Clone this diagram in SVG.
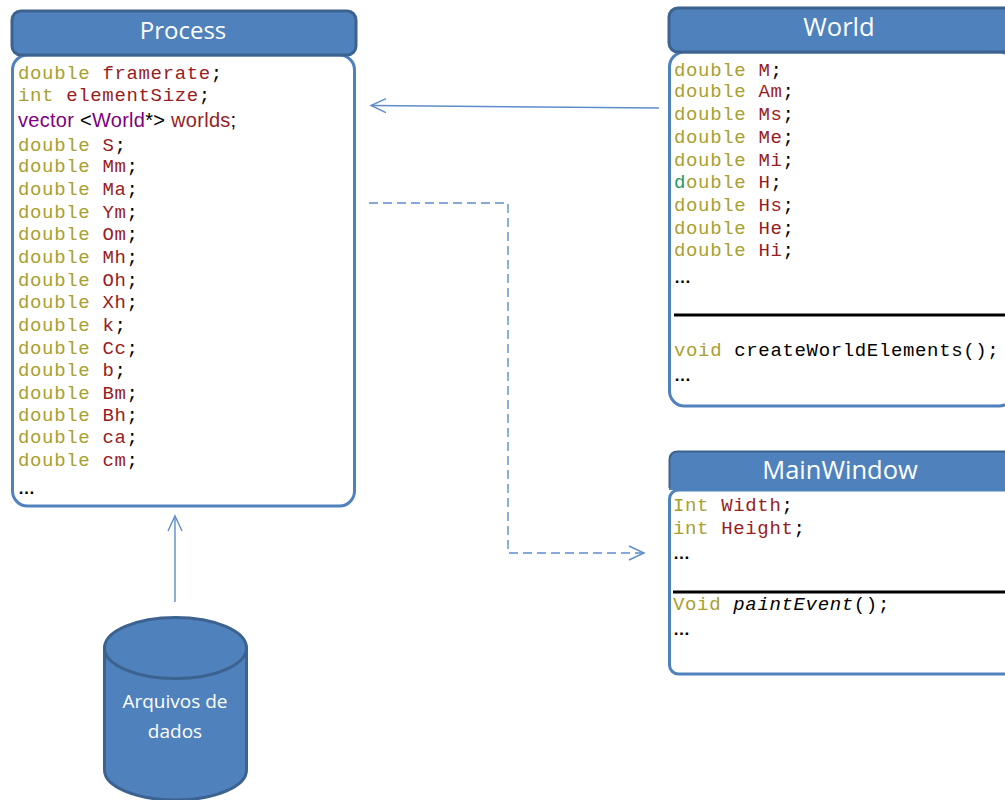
<svg xmlns="http://www.w3.org/2000/svg" width="1005" height="800" viewBox="0 0 1005 800">
<defs>
<marker id="arr" markerUnits="userSpaceOnUse" markerWidth="18" markerHeight="16" refX="16" refY="8" orient="auto"><path d="M1 1L16 8L1 15" fill="none" stroke="#5f8ccb" stroke-width="1.4"/></marker>
</defs>
<style>
.hd{fill:#4f81bd;stroke:#3c6390;stroke-width:3}
.bd{fill:#fff;stroke:#4f81bd;stroke-width:3}
.t{font-family:"Open Sans","Noto Sans",sans-serif;fill:#fff;text-anchor:middle}
.c{font-family:"Liberation Mono",monospace;font-size:19px;letter-spacing:.65px;fill:#000}
.k{fill:#a8a030}
.v{fill:#981c22}
.s{font-family:"Liberation Sans",sans-serif;font-size:20px;letter-spacing:.28px}
.e{font-family:"Liberation Sans",sans-serif;font-size:17px;font-weight:bold}
.line{fill:none;stroke:#5f8ccb;stroke-width:1.4}
.rule{stroke:#000;stroke-width:3}
</style>
<rect width="1005" height="800" fill="#fff"/>
<g id="connectors">
<path class="line" d="M659 108L371 105.500" marker-end="url(#arr)"/>
<path class="line" stroke-dasharray="9 5" d="M369 203H508V553H644" marker-end="url(#arr)"/>
<path class="line" d="M175 602V516" marker-end="url(#arr)"/>
</g>
<g id="process">
<rect class="bd" x="12.500" y="55" width="342" height="451" rx="15"/>
<rect class="hd" x="12" y="11" width="344" height="44" rx="9"/>
<text class="t" x="183" y="39" font-size="24">Process</text>
<text class="c" x="18" y="79"><tspan class="k">double</tspan> <tspan class="v">framerate</tspan>;</text>
<text class="c" x="18" y="101"><tspan class="k">int</tspan> <tspan class="v">elementSize</tspan>;</text>
<text class="s" x="18" y="127"><tspan fill="#800080">vector</tspan> &lt;<tspan fill="#800080">World</tspan>*&gt; <tspan class="v">worlds</tspan>;</text>
<text class="c" x="18" y="151"><tspan class="k">double</tspan> <tspan class="v">S</tspan>;</text>
<text class="c" x="18" y="172"><tspan class="k">double</tspan> <tspan class="v">Mm</tspan>;</text>
<text class="c" x="18" y="195"><tspan class="k">double</tspan> <tspan class="v">Ma</tspan>;</text>
<text class="c" x="18" y="218"><tspan class="k">double</tspan> <tspan class="v">Ym</tspan>;</text>
<text class="c" x="18" y="240"><tspan class="k">double</tspan> <tspan class="v">Om</tspan>;</text>
<text class="c" x="18" y="263"><tspan class="k">double</tspan> <tspan class="v">Mh</tspan>;</text>
<text class="c" x="18" y="286"><tspan class="k">double</tspan> <tspan class="v">Oh</tspan>;</text>
<text class="c" x="18" y="308"><tspan class="k">double</tspan> <tspan class="v">Xh</tspan>;</text>
<text class="c" x="18" y="331"><tspan class="k">double</tspan> <tspan class="v">k</tspan>;</text>
<text class="c" x="18" y="354"><tspan class="k">double</tspan> <tspan class="v">Cc</tspan>;</text>
<text class="c" x="18" y="376"><tspan class="k">double</tspan> <tspan class="v">b</tspan>;</text>
<text class="c" x="18" y="399"><tspan class="k">double</tspan> <tspan class="v">Bm</tspan>;</text>
<text class="c" x="18" y="421"><tspan class="k">double</tspan> <tspan class="v">Bh</tspan>;</text>
<text class="c" x="18" y="443"><tspan class="k">double</tspan> <tspan class="v">ca</tspan>;</text>
<text class="c" x="18" y="466"><tspan class="k">double</tspan> <tspan class="v">cm</tspan>;</text>
<text class="e" x="18" y="494">…</text>
</g>
<g id="world">
<rect class="bd" x="669.500" y="52" width="345" height="354" rx="15"/>
<rect class="hd" x="669" y="8" width="346" height="44" rx="9"/>
<text class="t" x="839" y="36" font-size="25.500">World</text>
<text class="c" x="674" y="76"><tspan class="k">double</tspan> <tspan class="v">M</tspan>;</text>
<text class="c" x="674" y="97"><tspan class="k">double</tspan> <tspan class="v">Am</tspan>;</text>
<text class="c" x="674" y="120"><tspan class="k">double</tspan> <tspan class="v">Ms</tspan>;</text>
<text class="c" x="674" y="143"><tspan class="k">double</tspan> <tspan class="v">Me</tspan>;</text>
<text class="c" x="674" y="166"><tspan class="k">double</tspan> <tspan class="v">Mi</tspan>;</text>
<text class="c" x="674" y="188"><tspan fill="#1f9a5a">d</tspan><tspan class="k">ouble</tspan> <tspan class="v">H</tspan>;</text>
<text class="c" x="674" y="211"><tspan class="k">double</tspan> <tspan class="v">Hs</tspan>;</text>
<text class="c" x="674" y="234"><tspan class="k">double</tspan> <tspan class="v">He</tspan>;</text>
<text class="c" x="674" y="256"><tspan class="k">double</tspan> <tspan class="v">Hi</tspan>;</text>
<text class="e" x="674" y="283">…</text>
<line class="rule" x1="674" y1="315" x2="1005" y2="315"/>
<text class="c" x="674" y="356"><tspan class="k">void</tspan> createWorldElements();</text>
<text class="e" x="674" y="381">…</text>
</g>
<g id="mainwindow">
<rect class="bd" x="669.500" y="490" width="345" height="184" rx="9"/>
<path d="M669 490V460Q669 451 678 451H1015V490Z" fill="#4f81bd"/>
<path d="M669.500 488V460Q669.500 451.500 678 451.500H1005" fill="none" stroke="#3c6390" stroke-width="2"/>
<text class="t" x="840" y="479" font-size="25.500">MainWindow</text>
<text class="c" x="673" y="511"><tspan class="k">Int</tspan> <tspan class="v">Width</tspan>;</text>
<text class="c" x="673" y="534"><tspan class="k">int</tspan> <tspan class="v">Height</tspan>;</text>
<text class="e" x="673" y="559">…</text>
<line class="rule" x1="673" y1="592" x2="1005" y2="592"/>
<text class="c" x="673" y="610"><tspan class="k">Void</tspan> <tspan font-style="italic">paintEvent</tspan>();</text>
<text class="e" x="673" y="635">…</text>
</g>
<g id="arquivos">
<path class="hd" d="M104.500 648V770C104.500 787 137 800 175.500 800S246.500 787 246.500 770V648Z"/>
<ellipse class="hd" cx="175.500" cy="648" rx="71" ry="30.500"/>
<text class="t" x="175" y="708" font-size="19">Arquivos de</text>
<text class="t" x="175" y="738" font-size="19">dados</text>
</g>
</svg>
